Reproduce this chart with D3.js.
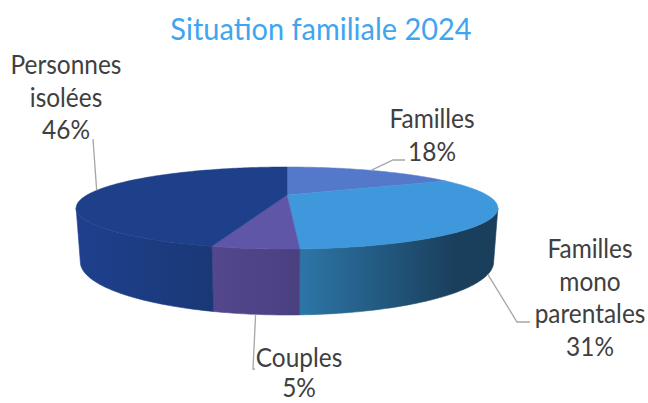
<!DOCTYPE html>
<html lang="fr">
  <head>
    <meta charset="UTF-8">
    <title>Situation familiale 2024</title>
    <style>
      html, body { margin: 0; padding: 0; background: white; }
      svg { display: block; }
      text { font-family: Lato, "Open Sans", sans-serif; }
    </style>
  </head>
  <body>
    <div id="my-div"></div>
    <script src="https://d3js.org/d3.v7.min.js"></script>
    <script>
      var categories = ["Familles", "Familles mono parentales", "Couples", "Personnes isolées"];
      var values = [17.9, 31.4, 4.9, 45.8];
      var labelLines = [["Familles"], ["Familles", "mono", "parentales"], ["Couples"], ["Personnes", "isolées"]];

      var topColors = ["#5478ca", "#3f98dc", "#6056a8", "#1e3f8a"];
      var wallLeft = ["#5478ca", "#2c76a8", "#54478e", "#1e408e"];
      var wallRight = ["#5478ca", "#1a3f5c", "#4a4080", "#1a3876"];

      var width = 648, height = 403;
      var svg = d3.select("#my-div").append("svg")
        .attr("width", width)
        .attr("height", height);

      // perspective of the disc: top rim and bottom rim
      var k = 0.317;
      var topRim = { cx: 287, cy: 195, b: 200, a: 36.9 };
      var bottomRim = { cx: 287, cy: 245, b: 196, a: 47.8 };

      function project(rim, angle) {
        var px = Math.sin(angle), depth = Math.cos(angle);
        var w = 1 + k * depth;
        return [rim.cx + rim.b * px / w, rim.cy - rim.a * depth / w];
      }

      var pie = d3.pie().sort(null).value(function (d) { return d; });
      var arcs = pie(values);

      // the side wall is only seen between the two outer edges of the disc
      var wallStart = Math.acos(-k), wallEnd = 2 * Math.PI - wallStart;

      function rimPoints(rim, a0, a1) {
        var n = Math.max(2, Math.ceil((a1 - a0) / 0.02));
        return d3.range(n + 1).map(function (i) {
          return project(rim, a0 + (a1 - a0) * i / n);
        });
      }

      var line = d3.line();
      var defs = svg.append("defs");

      // walls
      arcs.forEach(function (d, i) {
        var a0 = Math.max(d.startAngle, wallStart), a1 = Math.min(d.endAngle, wallEnd);
        if (a1 <= a0) return;
        var upper = rimPoints(topRim, a0, a1);
        var lower = rimPoints(bottomRim, a0, a1).reverse();
        var xs = upper.concat(lower).map(function (p) { return p[0]; });
        var grad = defs.append("linearGradient")
          .attr("id", "wall" + i)
          .attr("gradientUnits", "userSpaceOnUse")
          .attr("x1", d3.min(xs)).attr("x2", d3.max(xs))
          .attr("y1", 0).attr("y2", 0);
        grad.append("stop").attr("offset", 0).attr("stop-color", wallLeft[i]);
        // the right wall goes dark before it reaches the edge
        grad.append("stop").attr("offset", i == 1 ? 0.78 : 1).attr("stop-color", wallRight[i]);
        svg.append("path")
          .attr("d", line(upper.concat(lower)) + "Z")
          .attr("fill", "url(#wall" + i + ")")
          .attr("stroke", "url(#wall" + i + ")")
          .attr("stroke-width", 0.6);
      });

      // top of the disc
      arcs.forEach(function (d, i) {
        var pts = [[topRim.cx, topRim.cy]].concat(rimPoints(topRim, d.startAngle, d.endAngle));
        svg.append("path")
          .attr("d", line(pts) + "Z")
          .attr("fill", topColors[i])
          .attr("stroke", topColors[i])
          .attr("stroke-width", 0.5);
      });

      // leader lines start on the rim, at the middle of each slice
      var leaderRim = [topRim, bottomRim, bottomRim, topRim];
      var leaderBends = [
        [[393, 160], [405, 160]],
        [[517, 322], [530, 322]],
        [[253, 369], [255, 369]],
        [[93, 139]]
      ];
      arcs.forEach(function (d, i) {
        var mid = (d.startAngle + d.endAngle) / 2;
        svg.append("path")
          .attr("d", line([project(leaderRim[i], mid)].concat(leaderBends[i])))
          .attr("fill", "none")
          .attr("stroke", "#a6a6a6")
          .attr("stroke-width", 1.3);
      });

      // labels, slightly narrowed to sit like the original font
      var labelX = [432, 590, 299, 66];
      var labelY = [128, 258, 367, 74];
      // Couples sits on the bottom edge, so its two lines are a bit tighter
      var lineStep = [32.5, 32.5, 29.5, 32.5];
      var fontSize = 26, squeeze = 0.94;
      labelLines.forEach(function (lines, i) {
        lines.concat(Math.round(values[i]) + "%").forEach(function (t, j) {
          svg.append("text")
            .attr("transform", "translate(" + labelX[i] + "," + (labelY[i] + j * lineStep[i]) + ") scale(" + squeeze + ",1)")
            .attr("text-anchor", "middle")
            .attr("font-size", fontSize)
            .attr("fill", "#404040")
            .text(t);
        });
      });

      svg.append("text")
        .attr("transform", "translate(321,40) scale(0.95,1)")
        .attr("text-anchor", "middle")
        .attr("font-size", 30.5)
        .attr("fill", "#41a5ee")
        .text("Situation familiale 2024");
    </script>
  </body>
</html>
